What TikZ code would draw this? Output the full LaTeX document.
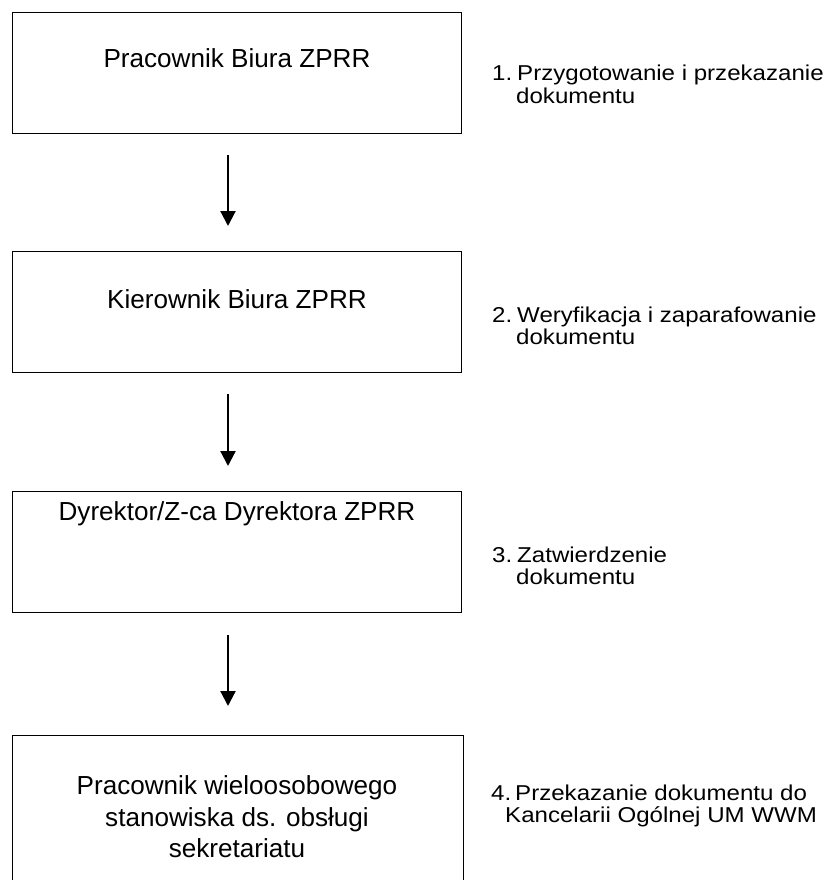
\documentclass[tikz,border=0pt]{standalone}
\usepackage{fontspec}
\setmainfont{Liberation Sans}
\newfontfamily\sidefont[FakeStretch=1.12]{Liberation Sans}
\usetikzlibrary{arrows.meta}
\begin{document}
\begin{tikzpicture}[x=1pt,y=-1pt,
  box/.style={draw=black,line width=1.3pt,rectangle,inner sep=0pt,anchor=north west},
  boxtext/.style={font=\fontsize{26.1}{31.5}\selectfont,align=center,anchor=base,inner sep=0pt},
  side/.style={font=\sidefont\fontsize{21.5}{22.5}\selectfont,anchor=base west,inner sep=0pt},
  arr/.style={line width=2.2pt,-{Triangle[width=15pt,length=15pt]}}]
\useasboundingbox (0,0) rectangle (829,880);
\coordinate (ax) at (228,0);
% boxes
\node[box,minimum width=449pt,minimum height=121pt] (b1) at (12,12) {};
\node[box,minimum width=449pt,minimum height=121pt] (b2) at (12,251) {};
\node[box,minimum width=449pt,minimum height=121pt] (b3) at (12,491) {};
\node[box,minimum width=451pt,minimum height=150pt] (b4) at (12,735) {};
% box texts
\node[boxtext] (t1) at (237,68) {Pracownik Biura ZPRR};
\node[boxtext] (t2) at (237,308) {Kierownik Biura ZPRR};
\node[boxtext] (t3) at (237,520) {Dyrektor/Z-ca Dyrektora ZPRR};
\node[boxtext] (t4a) at (237,794) {Pracownik wieloosobowego};
\node[boxtext] (t4b) at (237,826) {stanowiska ds. obsługi};
\node[boxtext] (t4c) at (237,857) {sekretariatu};
% arrows
\draw[arr,shorten <=21pt,shorten >=25pt] (b1.south -| ax) -- (b2.north -| ax);
\draw[arr,shorten <=21pt,shorten >=25pt] (b2.south -| ax) -- (b3.north -| ax);
\draw[arr,shorten <=22pt,shorten >=29pt] (b3.south -| ax) -- (b4.north -| ax);
% side texts
\node[side] (s1n) at (492,81) {1.};
\node[side] (s1a) at (517,81) {Przygotowanie i przekazanie};
\node[side] (s1b) at (516,103) {dokumentu};
\node[side] (s2n) at (492,322) {2.};
\node[side] (s2a) at (517,322) {Weryfikacja i zaparafowanie};
\node[side] (s2b) at (516,344) {dokumentu};
\node[side] (s3n) at (492,562) {3.};
\node[side] (s3a) at (517,562) {Zatwierdzenie};
\node[side] (s3b) at (516,584) {dokumentu};
\node[side] (s4n) at (491,800) {4.};
\node[side] (s4a) at (515,800) {Przekazanie dokumentu do};
\node[side] (s4b) at (505,822) {Kancelarii Ogólnej UM WWM};
\end{tikzpicture}
\end{document}
